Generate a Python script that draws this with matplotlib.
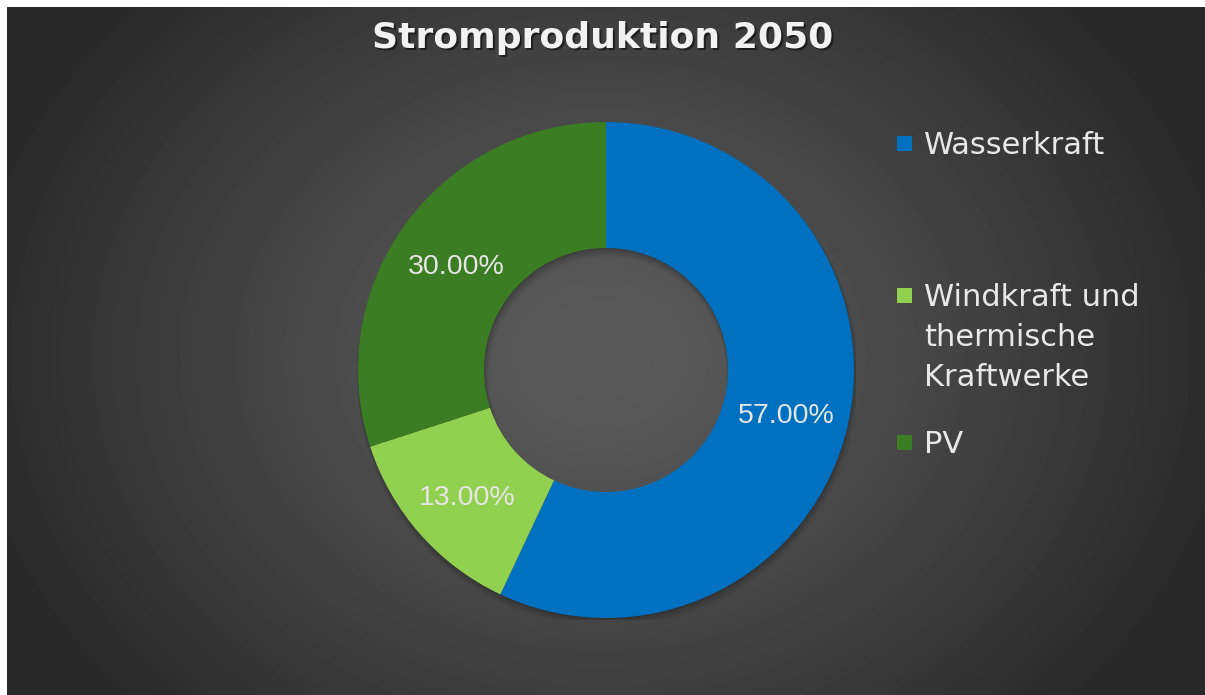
import matplotlib.pyplot as plt
import numpy as np
from matplotlib.patches import Wedge, Rectangle
from matplotlib.transforms import offset_copy

# data
labels = ["Wasserkraft", "Windkraft und\nthermische\nKraftwerke", "PV"]
values = [57, 13, 30]
colors = ["#0070C0", "#92D050", "#3B7D23"]
title = "Stromproduktion 2050"

W, H = 1205, 695
fig = plt.figure(figsize=(W / 100, H / 100), dpi=100)
fig.patch.set_facecolor("#2a2a2a")

# radial gradient background
bg = fig.add_axes([0, 0, 1, 1])
yy, xx = np.mgrid[0:H, 0:W]
cx, cy = 600, 355
d = np.sqrt(((xx - cx) / 640.0) ** 2 + ((yy - cy) / 520.0) ** 2)
d = np.clip(d, 0, 1)
img = 0.355 - (0.355 - 0.16) * d ** 1.3
bg.imshow(img, cmap="gray", vmin=0, vmax=1, aspect="auto", interpolation="bilinear")
bg.axis("off")
# white strip at top and left
fig.patches.append(Rectangle((0, 0), 7 / W, 1, transform=fig.transFigure, color="white", lw=0))
fig.patches.append(Rectangle((0, 1 - 7 / H), 1, 7 / H, transform=fig.transFigure, color="white", lw=0))

# donut axes: 500 px square centred at (606, 370)
R = 250
ax = fig.add_axes([(606 - R) / W, 1 - (370 + R) / H, 2 * R / W, 2 * R / H])
ax.set_xlim(-1, 1)
ax.set_ylim(-1, 1)
ax.set_aspect("equal")
ax.axis("off")

outer = 248 / R
inner = 122 / R

# soft shadow
for k, a in enumerate([0.10, 0.08, 0.06, 0.04]):
    off = 0.006 * (k + 1)
    ax.add_patch(Wedge((off * 0.3, -off), outer + 0.004 * k, 0, 360,
                       width=outer - inner + 0.008 * k, color="black", alpha=a, lw=0))

wedges, texts, autotexts = ax.pie(
    values, colors=colors, startangle=90, counterclock=False, radius=outer,
    autopct="%.2f%%", pctdistance=((outer + inner) / 2) / outer,
    wedgeprops=dict(width=outer - inner, linewidth=0),
    textprops=dict(color="#E6E6E6", fontsize=20.5, family="Liberation Sans"))
for t in autotexts:
    t.set_transform(offset_copy(ax.transData, fig=fig, x=0, y=-6, units="dots"))
ax.set_xlim(-1, 1)
ax.set_ylim(-1, 1)

# title
fig.text(603 / W + 0.0015, 1 - 38 / H - 0.003, title, ha="center", va="center",
         fontsize=26, fontweight="bold", family="DejaVu Sans", color="black", alpha=0.5)
fig.text(603 / W, 1 - 38 / H, title, ha="center", va="center",
         fontsize=26, fontweight="bold", family="DejaVu Sans", color="#F2F2F2")

# legend (manual)
leg_y = [143, 295, 442]
for lab, col, y in zip(labels, colors, leg_y):
    fig.patches.append(Rectangle((897 / W, 1 - (y + 8) / H), 15 / W, 15 / H,
                                 transform=fig.transFigure, color=col, lw=0))
    fig.text(924 / W, 1 - (y - 12) / H, lab, ha="left", va="top",
             fontsize=22, family="DejaVu Sans", color="#E8E8E8", linespacing=1.48)

fig.savefig("out.png", dpi=100)
